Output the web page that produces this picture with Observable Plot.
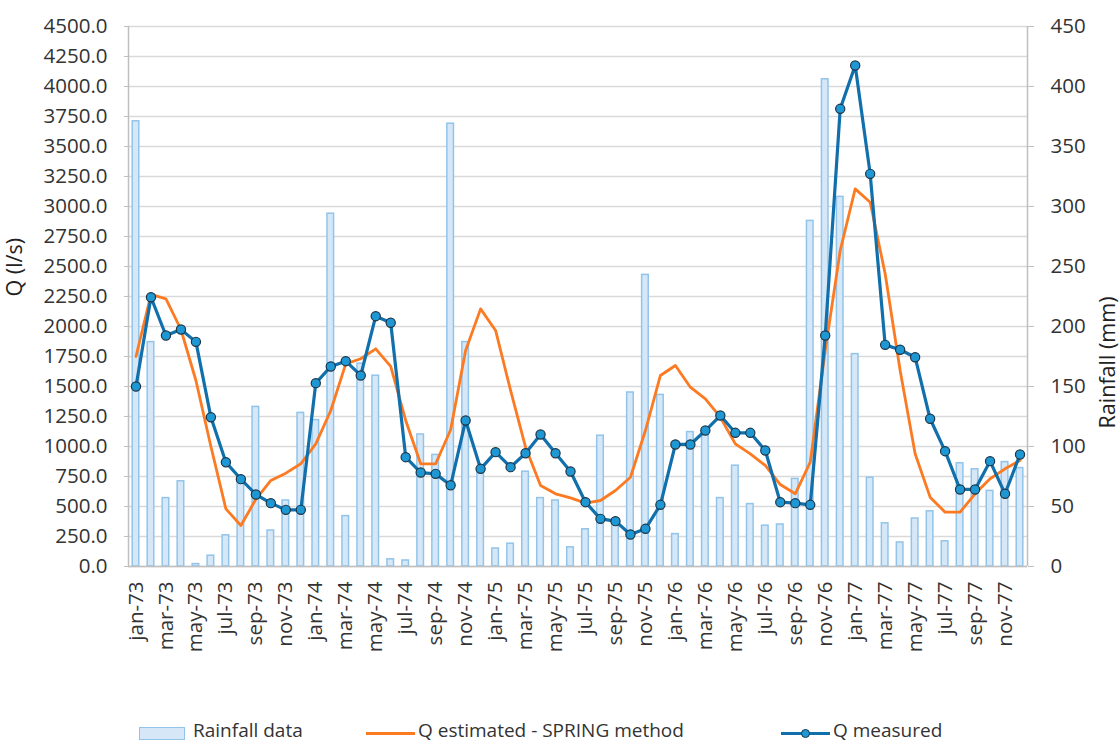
<!DOCTYPE html>
<html><head><meta charset="utf-8">
<script src="https://cdn.jsdelivr.net/npm/d3@7"></script>
<script src="https://cdn.jsdelivr.net/npm/@observablehq/plot@0.6"></script>
<style>
body{margin:0;background:#fff;font-family:"Open Sans",sans-serif;}
#wrap{position:relative;width:1120px;height:744px;overflow:hidden;}
.li{position:absolute;font-size:19px;color:#333;top:719px;line-height:22px;white-space:nowrap;}
.sw{position:absolute;}
</style></head><body><div id="wrap"></div>
<script>
const months = ["jan-73","feb-73","mar-73","apr-73","may-73","jun-73","jul-73","aug-73","sep-73","oct-73","nov-73","dec-73",
"jan-74","feb-74","mar-74","apr-74","may-74","jun-74","jul-74","aug-74","sep-74","oct-74","nov-74","dec-74",
"jan-75","feb-75","mar-75","apr-75","may-75","jun-75","jul-75","aug-75","sep-75","oct-75","nov-75","dec-75",
"jan-76","feb-76","mar-76","apr-76","may-76","jun-76","jul-76","aug-76","sep-76","oct-76","nov-76","dec-76",
"jan-77","feb-77","mar-77","apr-77","may-77","jun-77","jul-77","aug-77","sep-77","oct-77","nov-77","dec-77"];

const rainfall = [371,187,57,71,2,9,26,70,133,30,55,128,
 122,294,42,169,159,6,5,110,93,369,187,79,
 15,19,79,57,55,16,31,109,35,145,243,143,
 27,112,110,57,84,52,34,35,73,288,406,308,
 177,74,36,20,40,46,21,86,81,63,87,82];

const qMeasured = [1500,2244,1925,1975,1872,1244,869,728,600,528,472,472,
 1528,1667,1711,1592,2086,2031,911,783,772,677,1217,814,
 953,828,944,1100,944,792,536,397,378,267,314,514,
 1017,1017,1133,1258,1114,1114,967,536,528,514,1925,3814,
 4175,3272,1847,1806,1744,1231,961,642,642,878,606,933];

const qEstimated = [1750,2267,2231,1975,1550,1000,480,342,560,717,778,856,
 1022,1300,1689,1731,1814,1667,1217,856,856,1140,1800,2147,
 1967,1467,994,675,606,572,528,550,633,744,1133,1592,
 1675,1494,1397,1244,1022,939,842,683,606,869,1800,2633,
 3147,3036,2439,1633,939,578,453,453,606,731,814,883];

const leftTicks = [0,250,500,750,1000,1250,1500,1750,2000,2250,2500,2750,3000,3250,3500,3750,4000,4250,4500];
const rightTicks = [0,50,100,150,200,250,300,350,400,450];
const xTickLabels = ["jan-73","mar-73","may-73","jul-73","sep-73","nov-73","jan-74","mar-74","may-74","jul-74","sep-74","nov-74",
"jan-75","mar-75","may-75","jul-75","sep-75","nov-75","jan-76","mar-76","may-76","jul-76","sep-76","nov-76",
"jan-77","mar-77","may-77","jul-77","sep-77","nov-77"];

const RAIN_TO_Q = 10; // right axis 0-450 mm maps to left axis 0-4500 l/s
const data = months.map((m, i) => ({i, month: m, rain: rainfall[i], qm: qMeasured[i], qe: qEstimated[i]}));
const xTickIdx = xTickLabels.map(l => months.indexOf(l));

const chart = Plot.plot({
  width: 1120, height: 712,
  marginLeft: 128, marginRight: 93, marginTop: 26, marginBottom: 146,
  style: {fontFamily: "Open Sans", fontSize: "20.5px", color: "#333", background: "white", overflow: "visible"},
  x: {type: "linear", domain: [-0.5, months.length - 0.5]},
  y: {domain: [0, 4500]},
  marks: [
    Plot.gridY(leftTicks, {stroke: "#d9d9d9", strokeOpacity: 1, strokeWidth: 1.4}),
    Plot.rect(data, {x1: d => d.i - 0.22, x2: d => d.i + 0.22, y1: 0, y2: d => d.rain * RAIN_TO_Q,
      fill: "#d6e8f7", stroke: "#92c4ea", strokeWidth: 1.5}),
    Plot.line(data, {x: "i", y: "qe", stroke: "#fb7a22", strokeWidth: 2.8}),
    Plot.line(data, {x: "i", y: "qm", stroke: "#1170ab", strokeWidth: 3.2}),
    Plot.dot(data, {x: "i", y: "qm", r: 4.6, fill: "#1e98d5", stroke: "#1d3546", strokeWidth: 1.2}),
    Plot.ruleX([-0.5], {stroke: "#bfbfbf", strokeWidth: 1.5}),
    Plot.ruleX([months.length - 0.5], {stroke: "#bfbfbf", strokeWidth: 1.5}),
    Plot.ruleY([0], {stroke: "#bfbfbf", strokeWidth: 1.5}),
    Plot.axisY(leftTicks, {anchor: "left", tickFormat: d => d.toFixed(1), tickSize: 4, tickPadding: 17,
      label: null, stroke: "#bfbfbf", fill: "#333"}),
    Plot.axisY(rightTicks.map(v => v * RAIN_TO_Q), {anchor: "right", tickFormat: d => String(d / RAIN_TO_Q),
      tickSize: 6, tickPadding: 17, label: null, stroke: "#bfbfbf", fill: "#333"}),
    Plot.axisX(xTickIdx, {anchor: "bottom", tickFormat: i => months[i], tickRotate: -90, tickSize: 0,
      tickPadding: 15, label: null, fill: "#333"}),
    Plot.text(["Q (l/s)"], {frameAnchor: "left", dx: -113, rotate: -90, fontSize: 21.5, fill: "#222"}),
    Plot.text(["Rainfall (mm)"], {frameAnchor: "right", dx: 81, rotate: -90, fontSize: 21.5, fill: "#222"})
  ]
});
const wrap = document.getElementById("wrap");
wrap.appendChild(chart);

const legendItems = [
  {label: "Rainfall data", kind: "bar", x: 139},
  {label: "Q estimated - SPRING method", kind: "orange", x: 366},
  {label: "Q measured", kind: "blue", x: 781}
];
for (const it of legendItems) {
  if (it.kind === "bar") {
    const s = document.createElement("div");
    s.className = "sw";
    Object.assign(s.style, {left: it.x + "px", top: "727px", width: "44px", height: "11px",
      background: "#d6e8f7", border: "1.5px solid #92c4ea"});
    wrap.appendChild(s);
  } else {
    const s = document.createElement("div");
    s.className = "sw";
    Object.assign(s.style, {left: it.x + "px", top: "732px", width: "49px", height: "3px",
      background: it.kind === "orange" ? "#fb7a22" : "#1170ab"});
    wrap.appendChild(s);
    if (it.kind === "blue") {
      const c = document.createElement("div");
      c.className = "sw";
      Object.assign(c.style, {left: (it.x + 20) + "px", top: "729px", width: "7px", height: "7px",
        borderRadius: "50%", background: "#1e98d5", border: "1.2px solid #1d3546"});
      wrap.appendChild(c);
    }
  }
  const t = document.createElement("div");
  t.className = "li";
  t.textContent = it.label;
  t.style.left = (it.x + (it.kind === "bar" ? 54 : 52)) + "px";
  wrap.appendChild(t);
}
</script></body></html>
